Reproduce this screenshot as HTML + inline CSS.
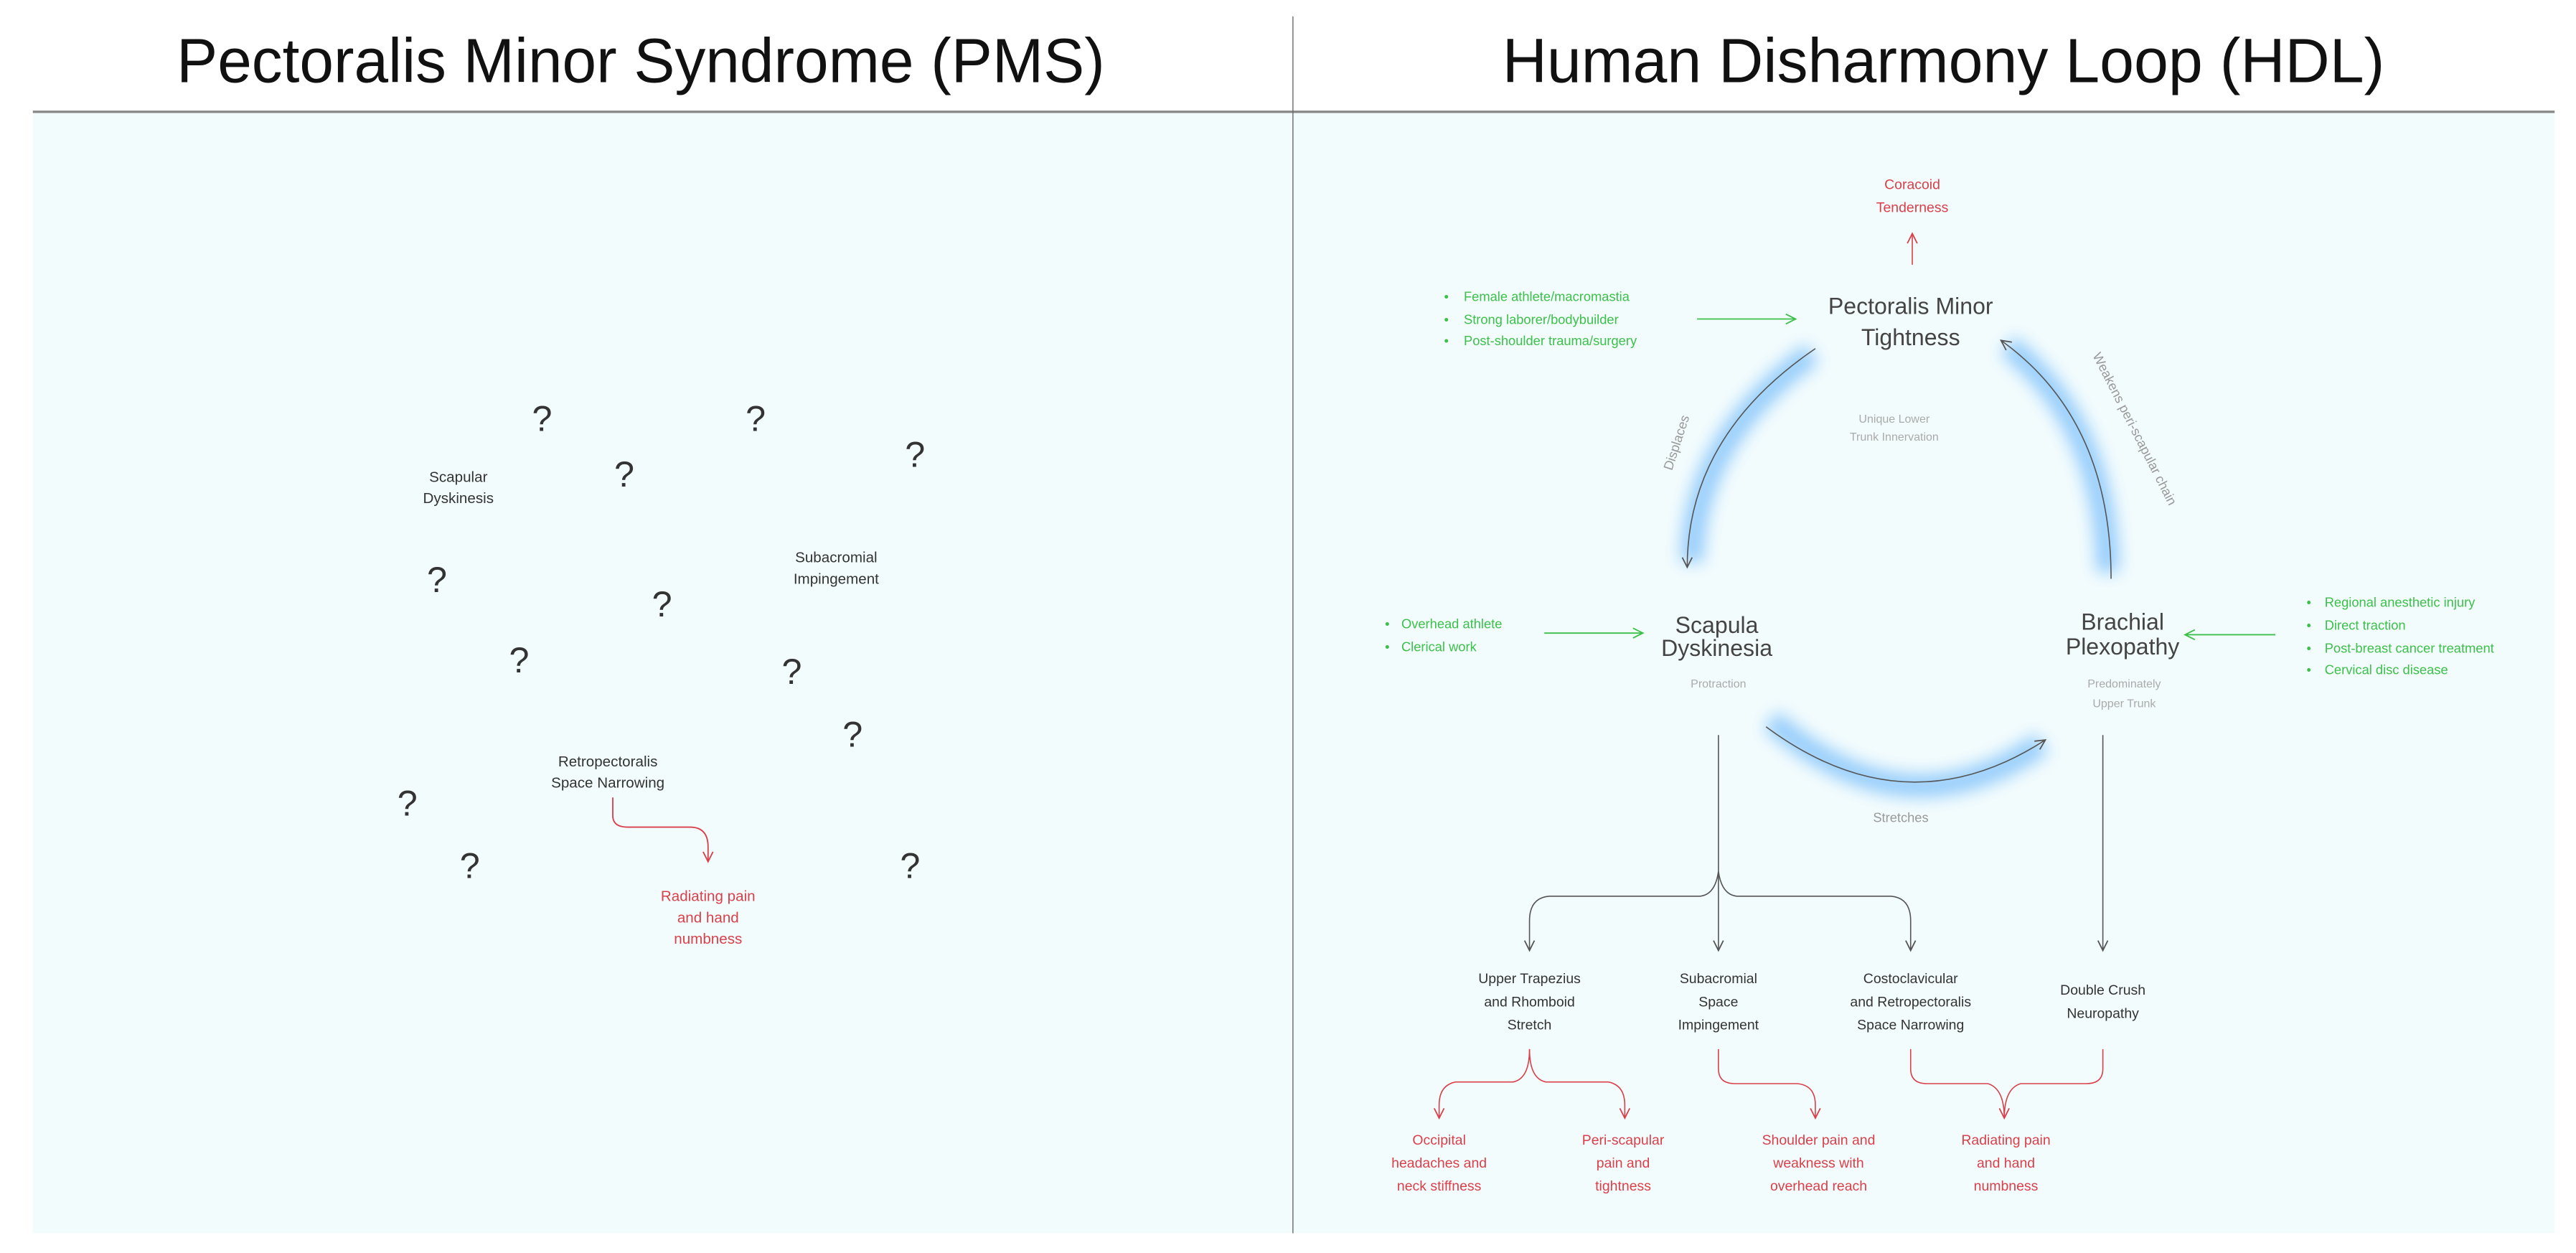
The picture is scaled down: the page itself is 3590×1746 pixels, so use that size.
<!DOCTYPE html>
<html><head><meta charset="utf-8"><style>
html,body{margin:0;padding:0;background:#fff;}
svg{display:block;}
text{font-family:"Liberation Sans",sans-serif;}
</style></head><body>
<svg width="3590" height="1746" viewBox="0 0 1568 762" preserveAspectRatio="none" xmlns="http://www.w3.org/2000/svg">
<defs>
<filter id="blur" x="-50%" y="-50%" width="200%" height="200%"><feGaussianBlur stdDeviation="5"/></filter>
<marker id="ag" markerWidth="8" markerHeight="8" refX="7" refY="4" orient="auto" markerUnits="userSpaceOnUse"><path d="M1,1 L7,4 L1,7" fill="none" stroke="#555" stroke-width="0.8"/></marker>
<marker id="ar" markerWidth="8" markerHeight="8" refX="7" refY="4" orient="auto" markerUnits="userSpaceOnUse"><path d="M1,1 L7,4 L1,7" fill="none" stroke="#d9404a" stroke-width="0.8"/></marker>
<marker id="agr" markerWidth="8" markerHeight="8" refX="7" refY="4" orient="auto" markerUnits="userSpaceOnUse"><path d="M1,1 L7,4 L1,7" fill="none" stroke="#3cc04a" stroke-width="0.8"/></marker>
</defs>
<rect x="20" y="69" width="1535" height="681" fill="#f3fcfd"/>
<line x1="20" y1="68" x2="1555" y2="68" stroke="#888" stroke-width="1.5"/>
<line x1="787" y1="10" x2="787" y2="750" stroke="#666" stroke-width="0.6"/>
<text x="390" y="50" font-size="38" text-anchor="middle" textLength="565" lengthAdjust="spacingAndGlyphs" fill="#111">Pectoralis Minor Syndrome (PMS)</text>
<text x="1183" y="50" font-size="38" text-anchor="middle" textLength="537" lengthAdjust="spacingAndGlyphs" fill="#111">Human Disharmony Loop (HDL)</text>

<g font-size="22" fill="#333" text-anchor="middle">
<text x="330" y="262">?</text><text x="460" y="262">?</text><text x="557" y="284">?</text>
<text x="380" y="296">?</text><text x="266" y="360">?</text><text x="403" y="375">?</text>
<text x="316" y="409">?</text><text x="482" y="416">?</text><text x="519" y="454">?</text>
<text x="248" y="496">?</text><text x="286" y="534">?</text><text x="554" y="534">?</text>
</g>
<g font-size="9" fill="#333" text-anchor="middle">
<text x="279" y="293">Scapular</text><text x="279" y="306">Dyskinesis</text>
<text x="509" y="342">Subacromial</text><text x="509" y="355">Impingement</text>
<text x="370" y="466">Retropectoralis</text><text x="370" y="479">Space Narrowing</text>
</g>
<path d="M373,485 L373,496 Q373,503 382,503 L420,503 Q431,503 431,515 L431,524" fill="none" stroke="#d9404a" stroke-width="0.8" marker-end="url(#ar)"/>
<g font-size="9" fill="#d9404a" text-anchor="middle">
<text x="431" y="548">Radiating pain</text><text x="431" y="561">and hand</text><text x="431" y="574">numbness</text>
</g>

<g fill="none" stroke="#8cc8fb" stroke-width="14" filter="url(#blur)" opacity="0.9">
<path d="M1103,215 Q1030,268 1030,342"/>
<path d="M1283,348 Q1282,258 1222,210"/>
<path d="M1078,438 Q1160,510 1243,452"/>
</g>
<g fill="none" stroke="#555" stroke-width="0.7">
<path d="M1105,212 Q1027,265 1027,345" marker-end="url(#ag)"/>
<path d="M1285,352 Q1285,255 1218,207" marker-end="url(#ag)"/>
<path d="M1075,442 Q1160,505 1245,450" marker-end="url(#ag)"/>
</g>
<text transform="translate(1023,270) rotate(-72)" font-size="8" fill="#999" text-anchor="middle">Displaces</text>
<text transform="translate(1297,262) rotate(63)" font-size="8" fill="#999" text-anchor="middle">Weakens peri-scapular chain</text>
<text x="1157" y="500" font-size="8" fill="#999" text-anchor="middle">Stretches</text>

<g font-size="8.5" fill="#d9404a" text-anchor="middle">
<text x="1164" y="115">Coracoid</text><text x="1164" y="129">Tenderness</text>
</g>
<line x1="1164" y1="161" x2="1164" y2="142" stroke="#d9404a" stroke-width="0.7" marker-end="url(#ar)"/>

<g font-size="14" fill="#444" text-anchor="middle">
<text x="1163" y="191">Pectoralis Minor</text><text x="1163" y="210">Tightness</text>
<text x="1045" y="385">Scapula</text><text x="1045" y="399">Dyskinesia</text>
<text x="1292" y="383">Brachial</text><text x="1292" y="398">Plexopathy</text>
</g>
<g font-size="7" fill="#aaa" text-anchor="middle">
<text x="1153" y="257">Unique Lower</text><text x="1153" y="268">Trunk Innervation</text>
<text x="1046" y="418">Protraction</text>
<text x="1293" y="418">Predominately</text><text x="1293" y="430">Upper Trunk</text>
</g>

<g font-size="8" fill="#3cc04a">
<text x="879" y="183">•</text><text x="891" y="183">Female athlete/macromastia</text>
<text x="879" y="197">•</text><text x="891" y="197">Strong laborer/bodybuilder</text>
<text x="879" y="210">•</text><text x="891" y="210">Post-shoulder trauma/surgery</text>
<text x="843" y="382">•</text><text x="853" y="382">Overhead athlete</text>
<text x="843" y="396">•</text><text x="853" y="396">Clerical work</text>
<text x="1404" y="369">•</text><text x="1415" y="369">Regional anesthetic injury</text>
<text x="1404" y="383">•</text><text x="1415" y="383">Direct traction</text>
<text x="1404" y="397">•</text><text x="1415" y="397">Post-breast cancer treatment</text>
<text x="1404" y="410">•</text><text x="1415" y="410">Cervical disc disease</text>
</g>
<g stroke="#3cc04a" stroke-width="0.8" fill="none">
<line x1="1033" y1="194" x2="1093" y2="194" marker-end="url(#agr)"/>
<line x1="940" y1="385" x2="1000" y2="385" marker-end="url(#agr)"/>
<line x1="1385" y1="386" x2="1330" y2="386" marker-end="url(#agr)"/>
</g>

<g fill="none" stroke="#555" stroke-width="0.7">
<line x1="1046" y1="447" x2="1046" y2="578" marker-end="url(#ag)"/>
<path d="M1046,530 Q1044,544 1035,545 L943,545 Q931,546 931,560 L931,578" marker-end="url(#ag)"/>
<path d="M1046,530 Q1048,544 1057,545 L1151,545 Q1163,546 1163,560 L1163,578" marker-end="url(#ag)"/>
<line x1="1280" y1="447" x2="1280" y2="578" marker-end="url(#ag)"/>
</g>
<g font-size="8.5" fill="#333" text-anchor="middle">
<text x="931" y="598">Upper Trapezius</text><text x="931" y="612">and Rhomboid</text><text x="931" y="626">Stretch</text>
<text x="1046" y="598">Subacromial</text><text x="1046" y="612">Space</text><text x="1046" y="626">Impingement</text>
<text x="1163" y="598">Costoclavicular</text><text x="1163" y="612">and Retropectoralis</text><text x="1163" y="626">Space Narrowing</text>
<text x="1280" y="605">Double Crush</text><text x="1280" y="619">Neuropathy</text>
</g>
<g fill="none" stroke="#d9404a" stroke-width="0.7">
<path d="M931,638 Q931,656 921,658 L886,658 Q876,660 876,672 L876,680" marker-end="url(#ar)"/>
<path d="M931,638 Q931,656 941,658 L979,658 Q989,660 989,672 L989,680" marker-end="url(#ar)"/>
<path d="M1046,638 L1046,650 Q1046,659 1056,659 L1094,659 Q1105,660 1105,672 L1105,680" marker-end="url(#ar)"/>
<path d="M1163,638 L1163,650 Q1163,659 1173,659 L1210,659 Q1220,662 1220,680" marker-end="url(#ar)"/>
<path d="M1280,638 L1280,650 Q1280,659 1270,659 L1230,659 Q1220,662 1220,680"/>
</g>
<g font-size="8.5" fill="#d9404a" text-anchor="middle">
<text x="876" y="696">Occipital</text><text x="876" y="710">headaches and</text><text x="876" y="724">neck stiffness</text>
<text x="988" y="696">Peri-scapular</text><text x="988" y="710">pain and</text><text x="988" y="724">tightness</text>
<text x="1107" y="696">Shoulder pain and</text><text x="1107" y="710">weakness with</text><text x="1107" y="724">overhead reach</text>
<text x="1221" y="696">Radiating pain</text><text x="1221" y="710">and hand</text><text x="1221" y="724">numbness</text>
</g>
</svg>
</body></html>
